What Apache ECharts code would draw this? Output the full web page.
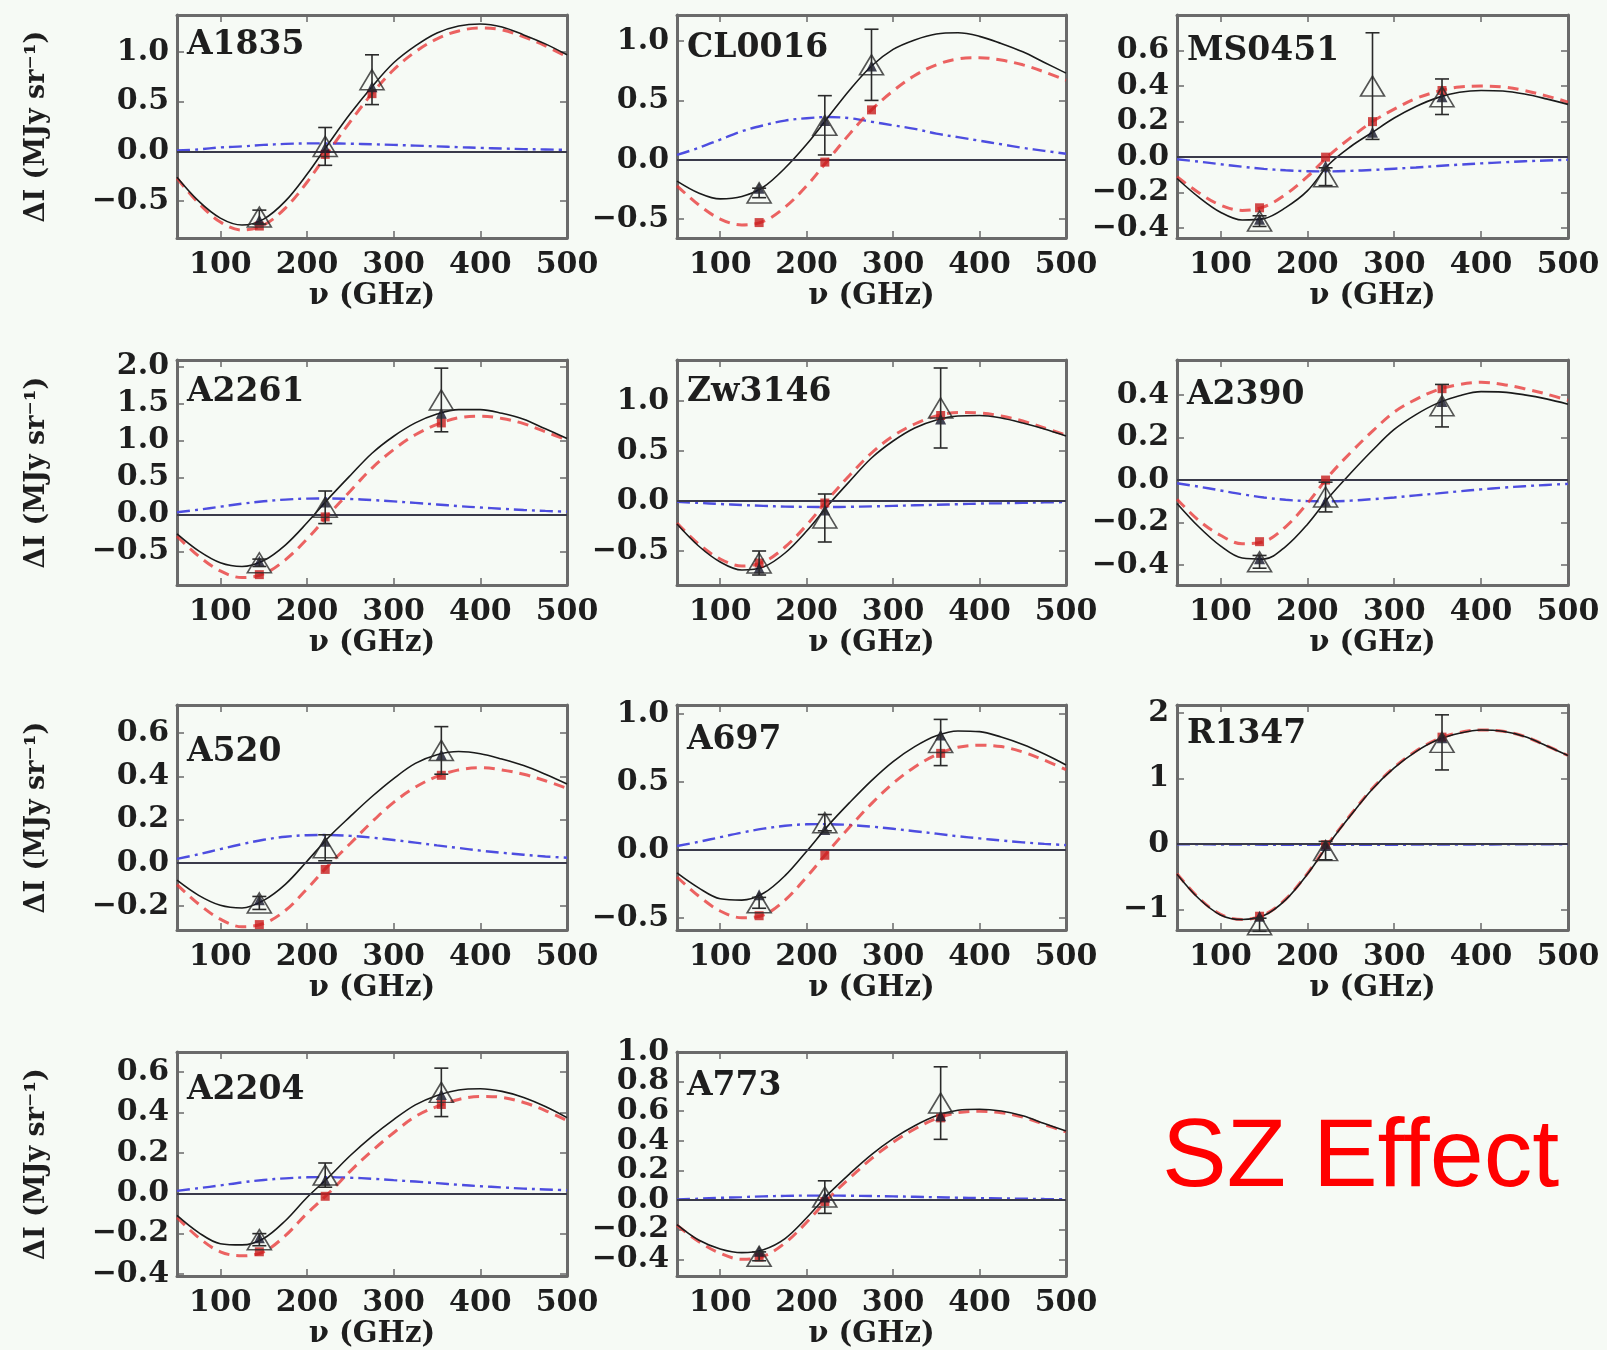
<!DOCTYPE html>
<html><head><meta charset="utf-8">
<script src="https://cdn.jsdelivr.net/npm/echarts@6/dist/echarts.min.js"></script>
<style>html,body{margin:0;padding:0;background:#f6faf5}#c{width:1607px;height:1350px}</style>
</head><body><div id="c"></div>
<script>
// ---------- DATA ----------
const nu = [50,75,100,125,150,175,200,225,250,275,300,325,350,375,400,425,450,475,500];
const xTicks = [100,200,300,400,500];
const panelNames = ['A1835','CL0016','MS0451','A2261','Zw3146','A2390','A520','A697','R1347','A2204','A773'];

// A1835
const black_A1835 = [-0.26,-0.50,-0.67,-0.74,-0.68,-0.50,-0.23,0.08,0.38,0.65,0.89,1.06,1.19,1.26,1.28,1.25,1.17,1.08,0.97];
const red_A1835   = [-0.27,-0.52,-0.71,-0.79,-0.74,-0.57,-0.31,0.00,0.30,0.58,0.82,1.00,1.13,1.21,1.24,1.22,1.15,1.06,0.95];
const blue_A1835  = [0.01,0.02,0.04,0.05,0.065,0.075,0.08,0.08,0.077,0.072,0.065,0.058,0.05,0.042,0.035,0.029,0.023,0.019,0.015];
const obs_A1835   = [[145,-0.66,0.07],[221,0.05,0.19],[275,0.72,0.25]];
const mBlack_A1835 = [[145,-0.69],[221,0.04],[275,0.65]];
const mRed_A1835   = [[145,-0.75],[221,-0.03],[275,0.58]];
const yRange_A1835 = [-0.87,1.37];
const yTicks_A1835 = [-0.5,0,0.5,1.0];

// CL0016
const black_CL0016 = [-0.18,-0.28,-0.33,-0.31,-0.23,-0.07,0.13,0.36,0.59,0.79,0.93,1.01,1.06,1.07,1.04,0.98,0.91,0.82,0.73];
const red_CL0016   = [-0.22,-0.38,-0.50,-0.55,-0.52,-0.40,-0.22,0.00,0.22,0.42,0.58,0.71,0.80,0.85,0.86,0.84,0.80,0.74,0.67];
const blue_CL0016  = [0.04,0.10,0.17,0.24,0.29,0.33,0.35,0.36,0.35,0.32,0.29,0.26,0.22,0.19,0.16,0.13,0.10,0.075,0.05];
const obs_CL0016   = [[145,-0.28,0.04],[221,0.29,0.25],[275,0.80,0.30]];
const mBlack_CL0016 = [[145,-0.24],[221,0.33],[275,0.79]];
const mRed_CL0016   = [[145,-0.53],[221,-0.02],[275,0.42]];
const yRange_CL0016 = [-0.66,1.22];
const yTicks_CL0016 = [-0.5,0,0.5,1.0];

// MS0451
const black_MS0451 = [-0.12,-0.225,-0.31,-0.354,-0.346,-0.284,-0.19,-0.04,0.06,0.14,0.22,0.285,0.335,0.365,0.375,0.372,0.355,0.328,0.297];
const red_MS0451   = [-0.11,-0.20,-0.27,-0.30,-0.28,-0.21,-0.11,0.01,0.11,0.20,0.27,0.33,0.37,0.395,0.40,0.395,0.375,0.345,0.31];
const blue_MS0451  = [-0.012,-0.025,-0.04,-0.054,-0.066,-0.074,-0.079,-0.08,-0.077,-0.072,-0.065,-0.058,-0.05,-0.042,-0.035,-0.029,-0.023,-0.019,-0.015];
const obs_MS0451   = [[145,-0.36,0.03],[221,-0.11,0.05],[275,0.40,0.30],[355,0.34,0.10]];
const mBlack_MS0451 = [[145,-0.35],[221,-0.05],[275,0.14],[355,0.34]];
const mRed_MS0451   = [[145,-0.285],[221,0.0],[275,0.20],[355,0.375]];
const yRange_MS0451 = [-0.455,0.80];
const yTicks_MS0451 = [-0.4,-0.2,0,0.2,0.4,0.6];

// A2261
const black_A2261 = [-0.26,-0.49,-0.65,-0.70,-0.62,-0.41,-0.11,0.22,0.53,0.83,1.06,1.24,1.36,1.42,1.42,1.37,1.29,1.16,1.03];
const red_A2261   = [-0.29,-0.56,-0.76,-0.85,-0.80,-0.61,-0.33,0.00,0.32,0.63,0.88,1.08,1.22,1.31,1.33,1.30,1.23,1.12,1.01];
const blue_A2261  = [0.033,0.068,0.108,0.148,0.181,0.204,0.217,0.219,0.212,0.198,0.18,0.159,0.138,0.116,0.097,0.08,0.064,0.051,0.041];
const obs_A2261   = [[145,-0.65,0.05],[221,0.10,0.22],[355,1.55,0.43]];
const mBlack_A2261 = [[145,-0.63],[221,0.17],[355,1.37]];
const mRed_A2261   = [[145,-0.81],[221,-0.03],[355,1.24]];
const yRange_A2261 = [-0.95,2.09];
const yTicks_A2261 = [-0.5,0,0.5,1.0,1.5,2.0];

// Zw3146
const black_Zw3146 = [-0.23,-0.45,-0.61,-0.69,-0.66,-0.52,-0.30,-0.04,0.20,0.43,0.60,0.73,0.81,0.85,0.855,0.83,0.78,0.72,0.65];
const red_Zw3146   = [-0.22,-0.43,-0.58,-0.65,-0.61,-0.46,-0.24,0.02,0.26,0.48,0.65,0.77,0.85,0.885,0.88,0.85,0.80,0.73,0.66];
const blue_Zw3146  = [-0.009,-0.019,-0.03,-0.04,-0.049,-0.056,-0.059,-0.06,-0.058,-0.054,-0.049,-0.043,-0.038,-0.032,-0.026,-0.022,-0.018,-0.014,-0.011];
const obs_Zw3146   = [[145,-0.62,0.12],[221,-0.17,0.24],[355,0.93,0.40]];
const mBlack_Zw3146 = [[145,-0.67],[221,-0.09],[355,0.82]];
const mRed_Zw3146   = [[145,-0.62],[221,-0.02],[355,0.855]];
const yRange_Zw3146 = [-0.84,1.41];
const yTicks_Zw3146 = [-0.5,0,0.5,1.0];

// A2390
const black_A2390 = [-0.11,-0.22,-0.31,-0.367,-0.372,-0.313,-0.209,-0.08,0.033,0.14,0.238,0.308,0.362,0.397,0.416,0.414,0.401,0.382,0.357];
const red_A2390   = [-0.09,-0.19,-0.26,-0.30,-0.29,-0.22,-0.11,0.02,0.13,0.23,0.32,0.38,0.425,0.45,0.46,0.45,0.43,0.405,0.375];
const blue_A2390  = [-0.015,-0.031,-0.049,-0.067,-0.082,-0.093,-0.099,-0.10,-0.097,-0.09,-0.082,-0.072,-0.063,-0.053,-0.044,-0.036,-0.029,-0.023,-0.018];
const obs_A2390   = [[145,-0.385,0.03],[221,-0.08,0.07],[355,0.35,0.10]];
const mBlack_A2390 = [[145,-0.37],[221,-0.10],[355,0.37]];
const mRed_A2390   = [[145,-0.29],[221,0.0],[355,0.43]];
const yRange_A2390 = [-0.494,0.565];
const yTicks_A2390 = [-0.4,-0.2,0,0.2,0.4];

// A520
const black_A520 = [-0.08,-0.15,-0.196,-0.208,-0.173,-0.099,0.008,0.119,0.215,0.307,0.39,0.46,0.50,0.515,0.505,0.48,0.45,0.41,0.365];
const red_A520   = [-0.10,-0.19,-0.26,-0.295,-0.28,-0.22,-0.12,-0.01,0.09,0.19,0.28,0.35,0.40,0.43,0.44,0.43,0.41,0.38,0.345];
const blue_A520  = [0.019,0.04,0.064,0.087,0.107,0.121,0.128,0.129,0.125,0.117,0.106,0.094,0.081,0.069,0.057,0.047,0.038,0.03,0.024];
const obs_A520   = [[145,-0.185,0.03],[221,0.07,0.06],[355,0.52,0.11]];
const mBlack_A520 = [[145,-0.17],[221,0.10],[355,0.50]];
const mRed_A520   = [[145,-0.285],[221,-0.03],[355,0.405]];
const yRange_A520 = [-0.31,0.73];
const yTicks_A520 = [-0.2,0,0.2,0.4,0.6];

// A697
const black_A697 = [-0.17,-0.28,-0.36,-0.37,-0.32,-0.19,-0.01,0.18,0.35,0.51,0.65,0.76,0.84,0.875,0.87,0.83,0.775,0.705,0.625];
const red_A697   = [-0.20,-0.34,-0.45,-0.50,-0.48,-0.37,-0.20,-0.01,0.17,0.34,0.49,0.61,0.70,0.755,0.77,0.76,0.72,0.66,0.59];
const blue_A697  = [0.028,0.059,0.093,0.127,0.156,0.177,0.188,0.189,0.183,0.171,0.155,0.137,0.119,0.10,0.084,0.069,0.055,0.044,0.035];
const obs_A697   = [[145,-0.39,0.04],[221,0.20,0.06],[355,0.79,0.17]];
const mBlack_A697 = [[145,-0.33],[221,0.15],[355,0.845]];
const mRed_A697   = [[145,-0.485],[221,-0.04],[355,0.71]];
const yRange_A697 = [-0.59,1.066];
const yTicks_A697 = [-0.5,0,0.5,1.0];

// R1347
const black_R1347 = [-0.46,-0.83,-1.08,-1.15,-1.09,-0.85,-0.46,0.01,0.44,0.84,1.16,1.41,1.59,1.69,1.74,1.72,1.64,1.50,1.35];
const red_R1347   = [-0.45,-0.82,-1.07,-1.15,-1.08,-0.84,-0.45,0.02,0.45,0.85,1.17,1.42,1.60,1.70,1.74,1.72,1.64,1.50,1.35];
const blue_R1347  = [-0.002,-0.004,-0.006,-0.008,-0.01,-0.011,-0.012,-0.012,-0.012,-0.011,-0.01,-0.009,-0.008,-0.007,-0.006,-0.005,-0.004,-0.003,-0.002];
const obs_R1347   = [[145,-1.23,0.10],[221,-0.10,0.14],[355,1.55,0.42]];
const mBlack_R1347 = [[145,-1.10],[221,-0.02],[355,1.62]];
const mRed_R1347   = [[145,-1.10],[221,-0.01],[355,1.63]];
const yRange_R1347 = [-1.31,2.12];
const yTicks_R1347 = [-1,0,1,2];

// A2204
const black_A2204 = [-0.11,-0.195,-0.25,-0.256,-0.224,-0.136,-0.021,0.08,0.187,0.282,0.365,0.438,0.485,0.512,0.518,0.505,0.475,0.43,0.375];
const red_A2204   = [-0.12,-0.22,-0.29,-0.31,-0.29,-0.21,-0.10,0.00,0.11,0.21,0.30,0.38,0.43,0.465,0.48,0.475,0.45,0.41,0.36];
const blue_A2204  = [0.012,0.025,0.039,0.054,0.066,0.074,0.079,0.08,0.077,0.072,0.065,0.058,0.05,0.042,0.035,0.029,0.023,0.019,0.015];
const obs_A2204   = [[145,-0.23,0.03],[221,0.09,0.06],[355,0.50,0.12]];
const mBlack_A2204 = [[145,-0.22],[221,0.065],[355,0.49]];
const mRed_A2204   = [[145,-0.29],[221,-0.015],[355,0.44]];
const yRange_A2204 = [-0.41,0.70];
const yTicks_A2204 = [-0.4,-0.2,0,0.2,0.4,0.6];

// A773
const black_A773 = [-0.166,-0.27,-0.33,-0.355,-0.335,-0.26,-0.12,0.04,0.179,0.307,0.415,0.502,0.569,0.606,0.613,0.601,0.569,0.517,0.466];
const red_A773   = [-0.17,-0.28,-0.36,-0.40,-0.38,-0.29,-0.15,0.01,0.15,0.28,0.39,0.48,0.55,0.59,0.60,0.59,0.56,0.51,0.46];
const blue_A773  = [0.004,0.009,0.015,0.02,0.025,0.028,0.03,0.03,0.029,0.027,0.025,0.022,0.019,0.016,0.013,0.011,0.009,0.007,0.006];
const obs_A773   = [[145,-0.38,0.03],[221,0.02,0.11],[355,0.655,0.245]];
const mBlack_A773 = [[145,-0.345],[221,0.02],[355,0.57]];
const mRed_A773   = [[145,-0.385],[221,-0.01],[355,0.555]];
const yRange_A773 = [-0.513,1.0];
const yTicks_A773 = [-0.4,-0.2,0,0.2,0.4,0.6,0.8,1.0];

// ---------- assemble ----------
const blackCurves = [black_A1835,black_CL0016,black_MS0451,black_A2261,black_Zw3146,black_A2390,black_A520,black_A697,black_R1347,black_A2204,black_A773];
const redCurves   = [red_A1835,red_CL0016,red_MS0451,red_A2261,red_Zw3146,red_A2390,red_A520,red_A697,red_R1347,red_A2204,red_A773];
const blueCurves  = [blue_A1835,blue_CL0016,blue_MS0451,blue_A2261,blue_Zw3146,blue_A2390,blue_A520,blue_A697,blue_R1347,blue_A2204,blue_A773];
const obsSets     = [obs_A1835,obs_CL0016,obs_MS0451,obs_A2261,obs_Zw3146,obs_A2390,obs_A520,obs_A697,obs_R1347,obs_A2204,obs_A773];
const mBlackSets  = [mBlack_A1835,mBlack_CL0016,mBlack_MS0451,mBlack_A2261,mBlack_Zw3146,mBlack_A2390,mBlack_A520,mBlack_A697,mBlack_R1347,mBlack_A2204,mBlack_A773];
const mRedSets    = [mRed_A1835,mRed_CL0016,mRed_MS0451,mRed_A2261,mRed_Zw3146,mRed_A2390,mRed_A520,mRed_A697,mRed_R1347,mRed_A2204,mRed_A773];
const yRanges     = [yRange_A1835,yRange_CL0016,yRange_MS0451,yRange_A2261,yRange_Zw3146,yRange_A2390,yRange_A520,yRange_A697,yRange_R1347,yRange_A2204,yRange_A773];
const yTickSets   = [yTicks_A1835,yTicks_CL0016,yTicks_MS0451,yTicks_A2261,yTicks_Zw3146,yTicks_A2390,yTicks_A520,yTicks_A697,yTicks_R1347,yTicks_A2204,yTicks_A773];

// ---------- layout ----------
const colLeft = [177, 677, 1177], colWidth = [390, 389, 391];
const rowTop = [15, 360, 705, 1052], rowHeight = [223, 225, 225, 225];
const labelDy = [30,33,36,32,32,35,47,35,29,38,34];

const SERIF = '"DejaVu Serif", "Liberation Serif", serif';
const INK = '#1e1e1e';
const FRAME = '#6a6a6a';

function fmt(decimals){
  return function(v){
    const s = Math.abs(v).toFixed(decimals);
    return (v < -1e-9 ? '\u2212' : '') + s;
  };
}

const grids = [], xAxes = [], yAxes = [], series = [], graphics = [];

panelNames.forEach(function(name, i){
  const row = Math.floor(i/3), col = i%3;
  grids.push({left: colLeft[col], top: rowTop[row], width: colWidth[col], height: rowHeight[row], containLabel: false});
  const tickStyle = {inside: true, length: 7, lineStyle: {color: FRAME, width: 1.5}};
  const lineStyle = {show: true, onZero: false, lineStyle: {color: FRAME, width: 3}};
  xAxes.push({
    gridIndex: i, type: 'value', min: 50, max: 500, position: 'bottom',
    axisLine: lineStyle,
    axisTick: Object.assign({customValues: xTicks}, tickStyle),
    axisLabel: {customValues: xTicks, fontFamily: SERIF, fontWeight: 'bold', fontSize: 30, color: INK, margin: 12,
      hideOverlap: false, showMinLabel: true, showMaxLabel: true},
    splitLine: {show: false},
    name: '\u03bd (GHz)', nameLocation: 'middle', nameGap: 44,
    nameTextStyle: {fontFamily: SERIF, fontWeight: 'bold', fontSize: 29, color: INK}
  });
  xAxes.push({
    gridIndex: i, type: 'value', min: 50, max: 500, position: 'top',
    axisLine: lineStyle,
    axisTick: Object.assign({customValues: xTicks}, tickStyle),
    axisLabel: {show: false}, splitLine: {show: false}
  });
  const ticks = yTickSets[i];
  const evenTicks = ticks.filter(function(t, k){ return k % 2 === 0; });
  const oddTicks = ticks.filter(function(t, k){ return k % 2 === 1; });
  const dec = ticks.every(function(t){return Number.isInteger(t);}) ? 0 : 1;
  const labelStyle = {formatter: fmt(dec), fontFamily: SERIF, fontWeight: 'bold', fontSize: 30,
      color: INK, margin: 8, hideOverlap: false, showMinLabel: true, showMaxLabel: true};
  // left axis: frame, ticks, even labels
  const yl = {
    gridIndex: i, type: 'value', min: yRanges[i][0], max: yRanges[i][1], position: 'left',
    axisLine: lineStyle,
    axisTick: Object.assign({customValues: ticks}, tickStyle),
    axisLabel: Object.assign({customValues: evenTicks}, labelStyle),
    splitLine: {show: false}
  };
  if (col === 0) {
    yl.name = '\u0394I (MJy sr\u207b\u00b9)';
    yl.nameLocation = 'middle';
    yl.nameGap = 127;
    yl.nameRotate = 90;
    yl.nameMoveOverlap = false;
    yl.nameTextStyle = {fontFamily: SERIF, fontWeight: 'bold', fontSize: 27, color: INK};
  }
  yAxes.push(yl);
  // left axis twin: odd labels only
  yAxes.push({
    gridIndex: i, type: 'value', min: yRanges[i][0], max: yRanges[i][1], position: 'left', offset: 0,
    axisLine: {show: false}, axisTick: {show: false},
    axisLabel: Object.assign({customValues: oddTicks.length ? oddTicks : [], show: oddTicks.length > 0}, labelStyle),
    splitLine: {show: false}
  });
  // right mirror
  yAxes.push({
    gridIndex: i, type: 'value', min: yRanges[i][0], max: yRanges[i][1], position: 'right',
    axisLine: lineStyle,
    axisTick: Object.assign({customValues: ticks}, tickStyle),
    axisLabel: {show: false}, splitLine: {show: false}
  });

  const xi = 2*i, yi = 3*i;
  const pairs = function(arr){ return nu.map(function(x,k){ return [x, arr[k]]; }); };

  series.push({
    type: 'line', xAxisIndex: xi, yAxisIndex: yi, data: pairs(blueCurves[i]),
    smooth: 0.35, showSymbol: false, silent: true, z: 2,
    lineStyle: {color: '#4d4de0', width: 2.4, type: [13,5,3,5]},
    markLine: {silent: true, symbol: 'none', label: {show: false}, animation: false,
      lineStyle: {color: '#3a3a4a', width: 2.2, type: 'solid'}, data: [{yAxis: 0}]}
  });
  series.push({
    type: 'line', xAxisIndex: xi, yAxisIndex: yi, data: pairs(redCurves[i]),
    smooth: 0.35, showSymbol: false, silent: true, z: 3,
    lineStyle: {color: 'rgba(232,55,55,0.78)', width: 3, type: [11,7]}
  });
  series.push({
    type: 'line', xAxisIndex: xi, yAxisIndex: yi, data: pairs(blackCurves[i]),
    smooth: 0.35, showSymbol: false, silent: true, z: 4,
    lineStyle: {color: '#1a1a1a', width: 1.6}
  });
  series.push({
    type: 'scatter', xAxisIndex: xi, yAxisIndex: yi, data: mRedSets[i], silent: true, z: 5,
    symbol: 'rect', symbolSize: 9, itemStyle: {color: '#c81e1e'}
  });
  series.push({
    type: 'scatter', xAxisIndex: xi, yAxisIndex: yi, data: mBlackSets[i], silent: true, z: 6,
    symbol: 'triangle', symbolSize: 11, itemStyle: {color: '#15152a'}
  });
  series.push({
    type: 'custom', xAxisIndex: xi, yAxisIndex: yi, silent: true, z: 7,
    data: obsSets[i].map(function(o){ return [o[0], o[1]-o[2], o[1]+o[2]]; }),
    encode: {x: 0, y: [1,2]},
    renderItem: function(params, api){
      const x = api.value(0);
      const p1 = api.coord([x, api.value(1)]), p2 = api.coord([x, api.value(2)]);
      const cap = 7;
      const st = {stroke: '#2a2a2a', lineWidth: 1.6, fill: null};
      return {type: 'group', children: [
        {type: 'line', shape: {x1: p1[0], y1: p1[1], x2: p2[0], y2: p2[1]}, style: st},
        {type: 'line', shape: {x1: p1[0]-cap, y1: p1[1], x2: p1[0]+cap, y2: p1[1]}, style: st},
        {type: 'line', shape: {x1: p2[0]-cap, y1: p2[1], x2: p2[0]+cap, y2: p2[1]}, style: st}
      ]};
    }
  });
  series.push({
    type: 'scatter', xAxisIndex: xi, yAxisIndex: yi, silent: true, z: 8,
    data: obsSets[i].map(function(o){ return [o[0], o[1]]; }),
    symbol: 'triangle', symbolSize: [24, 20],
    itemStyle: {color: 'rgba(255,255,255,0)', borderColor: '#2a2a2a', borderWidth: 1.6}
  });

  graphics.push({
    type: 'text', x: colLeft[col] + 10, y: rowTop[row] + labelDy[i], z: 100, silent: true,
    style: {text: name, font: 'bold 33px ' + SERIF, fill: INK,
      align: 'left', verticalAlign: 'middle', textAlign: 'left', textVerticalAlign: 'middle'}
  });
});

graphics.push({
  type: 'text', x: 1162, y: 1159, z: 100, silent: true,
  style: {text: 'SZ Effect', font: 'normal 97px "Liberation Sans", Arial, sans-serif', fill: '#ff0000',
    align: 'left', verticalAlign: 'middle', textAlign: 'left', textVerticalAlign: 'middle'}
});

const chart = echarts.init(document.getElementById('c'), null, {renderer: 'canvas'});
chart.setOption({
  backgroundColor: '#f6faf5',
  animation: false,
  grid: grids, xAxis: xAxes, yAxis: yAxes, series: series, graphic: graphics
});
</script>
</body></html>
